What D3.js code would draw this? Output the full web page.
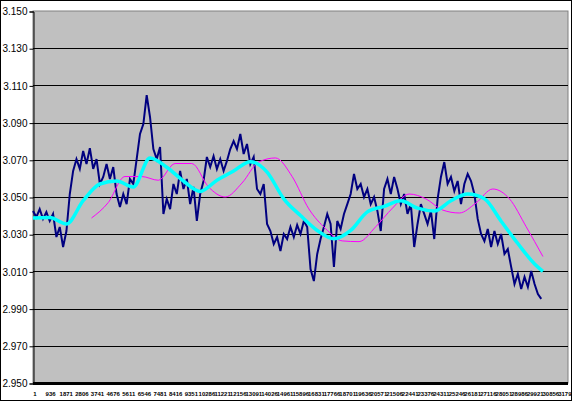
<!DOCTYPE html>
<html>
<head>
<meta charset="utf-8">
<script src="https://cdn.jsdelivr.net/npm/d3@7"></script>
<style>
  html, body { margin: 0; padding: 0; background: #fff; }
  svg { display: block; }
</style>
</head>
<body>
<div id="chart"></div>
<script>
const WIDTH = 572;
const HEIGHT = 401;
const MARGIN = {
  top: 11, right: 4, bottom: 18, left: 33
};

// category count of the axis (rows in the sheet)
const N_CATEGORIES = 32000;

// x tick labels (every 935th row)
const xLabels = [1, 936, 1871, 2806, 3741, 4676, 5611, 6546, 7481, 8416, 9351,
  10286, 11221, 12156, 13091, 14026, 14961, 15896, 16831, 17766, 18701, 19636,
  20571, 21506, 22441, 23376, 24311, 25246, 26181, 27116, 28051, 28986, 29921,
  30856, 31791];

const yTicks = [2.950, 2.970, 2.990, 3.010, 3.030, 3.050, 3.070, 3.090, 3.110, 3.130, 3.150];

// raw series, read every 200 rows
const RAW_STEP = 200;
const rawValues = [
  3.0425, 3.0392, 3.0435, 3.0382, 3.0419, 3.0371, 3.0409, 3.0285, 3.0339, 3.0231,
  3.0317, 3.0516, 3.0640, 3.0704, 3.0651, 3.0747, 3.0677, 3.0763, 3.0651, 3.0704,
  3.0570, 3.0608, 3.0677, 3.0597, 3.0661, 3.0516, 3.0446, 3.0516, 3.0462, 3.0597,
  3.0570, 3.0704, 3.0839, 3.0892, 3.1048, 3.0930, 3.0758, 3.0704, 3.0769, 3.0409,
  3.0489, 3.0435, 3.0570, 3.0516, 3.0640, 3.0543, 3.0597, 3.0462, 3.0554, 3.0371,
  3.0516, 3.0586, 3.0715, 3.0661, 3.0720, 3.0651, 3.0704, 3.0640, 3.0694, 3.0758,
  3.0801, 3.0758, 3.0839, 3.0731, 3.0785, 3.0677, 3.0715, 3.0543, 3.0516, 3.0570,
  3.0355, 3.0317, 3.0247, 3.0285, 3.0210, 3.0301, 3.0274, 3.0339, 3.0285, 3.0349,
  3.0301, 3.0371, 3.0339, 3.0113, 3.0048, 3.0194, 3.0274, 3.0339, 3.0409, 3.0355,
  3.0124, 3.0371, 3.0328, 3.0409, 3.0462, 3.0516, 3.0624, 3.0543, 3.0570, 3.0500,
  3.0543, 3.0462, 3.0500, 3.0425, 3.0317, 3.0543, 3.0597, 3.0516, 3.0608, 3.0543,
  3.0462, 3.0516, 3.0409, 3.0462, 3.0231, 3.0355, 3.0462, 3.0409, 3.0355, 3.0425,
  3.0274, 3.0489, 3.0608, 3.0688, 3.0570, 3.0608, 3.0532, 3.0586, 3.0462, 3.0570,
  3.0624, 3.0586, 3.0516, 3.0382, 3.0301, 3.0263, 3.0328, 3.0231, 3.0317, 3.0247,
  3.0301, 3.0194, 3.0220, 3.0124, 3.0032, 3.0086, 3.0005, 3.0070, 3.0016, 3.0102,
  3.0032, 2.9978, 2.9952
];

// short moving average (cyan), every 1000 rows from row 0
const AVG_STEP = 1000;
const shortAvg = [
  3.0387, 3.0390, 3.0355, 3.0480, 3.0570, 3.0586, 3.0554, 3.0710, 3.0660, 3.0586,
  3.0530, 3.0590, 3.0640, 3.0690, 3.0634, 3.0490, 3.0400, 3.0320, 3.0275, 3.0320,
  3.0420, 3.0450, 3.0480, 3.0440, 3.0425, 3.0480, 3.0516, 3.0490, 3.0370, 3.0250,
  3.0140, 3.0100
];

// long moving average (magenta), every 1000 rows from row 3500
const LONG_START = 3500;
const longAvg = [
  3.0387, 3.0470, 3.0610, 3.0610, 3.0590, 3.0680, 3.0680, 3.0554, 3.0500, 3.0575,
  3.0688, 3.0710, 3.0610, 3.0436, 3.0330, 3.0264, 3.0260, 3.0340, 3.0440, 3.0516,
  3.0490, 3.0430, 3.0414, 3.0468, 3.0543, 3.0490, 3.0340, 3.0180
];

function drawChart() {
  const svg = d3.select('#chart').append('svg')
    .attr('width', WIDTH)
    .attr('height', HEIGHT);

  svg.append('rect')
    .attr('x', 0.5).attr('y', 0.5)
    .attr('width', WIDTH - 1).attr('height', HEIGHT - 1)
    .attr('fill', '#fff')
    .attr('stroke', '#000');

  const x = d3.scaleLinear()
    .domain([0, N_CATEGORIES])
    .range([MARGIN.left, WIDTH - MARGIN.right]);
  const y = d3.scaleLinear()
    .domain([2.950, 3.150])
    .range([HEIGHT - MARGIN.bottom, MARGIN.top]);

  // plot area
  svg.append('rect')
    .attr('x', x.range()[0])
    .attr('y', y.range()[1])
    .attr('width', x.range()[1] - x.range()[0])
    .attr('height', y.range()[0] - y.range()[1])
    .attr('fill', '#c0c0c0')
    .attr('stroke', '#808080');

  // gridlines
  svg.append('g')
    .selectAll('line')
    .data(yTicks.slice(1, -1))
    .join('line')
    .attr('x1', x.range()[0])
    .attr('x2', x.range()[1])
    .attr('y1', d => Math.round(y(d)) + 0.5)
    .attr('y2', d => Math.round(y(d)) + 0.5)
    .attr('stroke', '#000');

  // y axis
  const yAxis = d3.axisLeft(y)
    .tickValues(yTicks)
    .tickFormat(d3.format('.3f'))
    .tickSize(4)
    .tickPadding(2);
  const gy = svg.append('g')
    .attr('transform', `translate(${MARGIN.left + 0.5}, 0.5)`)
    .call(yAxis);
  gy.select('.domain').attr('stroke', '#000');
  gy.selectAll('.tick line').attr('stroke', '#000');
  gy.selectAll('text')
    .attr('fill', '#000')
    .attr('font-family', 'Liberation Sans, Arial, sans-serif')
    .attr('font-size', '10px');

  // x axis: dense category ticks look like a heavy black line
  svg.append('rect')
    .attr('x', x.range()[0])
    .attr('y', y.range()[0] - 1)
    .attr('width', x.range()[1] - x.range()[0])
    .attr('height', 3)
    .attr('fill', '#000');

  svg.append('g')
    .selectAll('text')
    .data(xLabels)
    .join('text')
    .attr('x', d => x(d - 1) + 2)
    .attr('y', HEIGHT - 5)
    .attr('text-anchor', 'middle')
    .attr('font-family', 'Liberation Sans, Arial, sans-serif')
    .attr('font-size', '6px')
    .attr('font-weight', 'bold')
    .attr('fill', '#000')
    .text(d => d);

  const plot = svg.append('g');

  const raw = rawValues.map((v, i) => [i * RAW_STEP, v]);
  const shortPts = shortAvg.map((v, i) => [Math.min(i * AVG_STEP, 30500), v]);
  const longPts = longAvg.map((v, i) => [LONG_START + i * AVG_STEP, v]);

  const line = d3.line()
    .x(d => x(d[0]))
    .y(d => y(d[1]));
  const smooth = d3.line()
    .x(d => x(d[0]))
    .y(d => y(d[1]))
    .curve(d3.curveMonotoneX);

  plot.append('path')
    .datum(raw)
    .attr('fill', 'none')
    .attr('stroke', '#000080')
    .attr('stroke-width', 2)
    .attr('stroke-linejoin', 'miter')
    .attr('d', line);

  plot.append('path')
    .datum(longPts)
    .attr('fill', 'none')
    .attr('stroke', '#ff00ff')
    .attr('stroke-width', 1)
    .attr('d', smooth);

  plot.append('path')
    .datum(shortPts)
    .attr('fill', 'none')
    .attr('stroke', '#00ffff')
    .attr('stroke-width', 3.5)
    .attr('d', smooth);
}

drawChart();
</script>
</body>
</html>
